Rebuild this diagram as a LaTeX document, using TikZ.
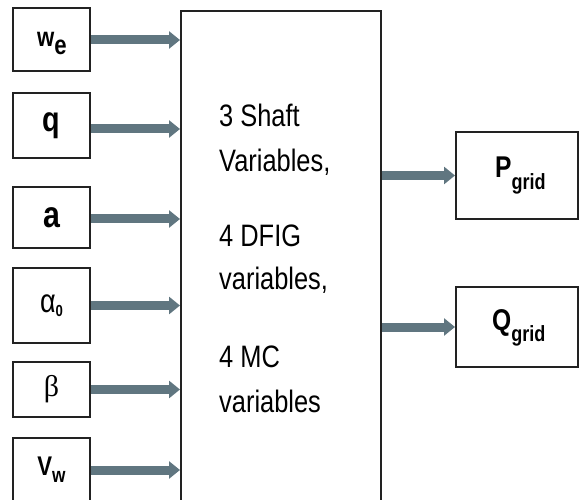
\documentclass[tikz,border=0pt]{standalone}
\usepackage{fontspec}
\setmainfont{Liberation Sans}[FakeStretch=0.82]
\newfontfamily\serifgr{Liberation Serif}
\usetikzlibrary{arrows.meta}
\definecolor{arrowgray}{RGB}{96,118,128}
\definecolor{edgegray}{RGB}{34,34,34}
\tikzset{
  inbox/.style={draw=edgegray, line width=2pt, inner sep=0pt, minimum width=77pt},
  outbox/.style={draw=edgegray, line width=2pt, inner sep=0pt, minimum width=122pt},
  mainbox/.style={draw=edgegray, line width=2pt, inner sep=0pt, minimum width=200pt, minimum height=509pt},
  flow/.style={draw=arrowgray, line width=9pt, -{Triangle[length=11pt,width=17pt]}, arrowgray},
  maintext/.style={anchor=base west, inner sep=0pt, font=\fontsize{31}{36}\selectfont}
}
\begin{document}
\begin{tikzpicture}[x=1pt,y=-1pt]
\useasboundingbox (0,0) rectangle (579,500);
\clip (0,0) rectangle (579,500);
\fill[white] (0,0) rectangle (579,500);
% left input boxes
\node[inbox, minimum height=63pt] (we) at (51.5,39.5) {};
\node[inner sep=0pt] (wel) at (52,44)
  {\fontsize{27}{30}\selectfont\bfseries w\raisebox{-8pt}{e}};
\node[inbox, minimum height=65pt] (q) at (51.5,125.5)
  {\fontsize{35}{38}\selectfont\bfseries q};
\node[inbox, minimum height=61pt] (a) at (51.5,217.5)
  {\fontsize{37}{40}\selectfont\bfseries a};
\node[inbox, minimum height=75pt] (al) at (51.5,305.5)
  {\fontsize{33}{36}\selectfont α\raisebox{-4pt}{\fontsize{16}{18}\selectfont\bfseries 0}};
\node[inbox, minimum height=55pt] (be) at (51.5,389.5)
  {\serifgr\fontsize{30}{32}\selectfont β};
\node[inbox, minimum height=64pt] (vw) at (51.5,470)
  {\fontsize{27}{30}\selectfont\bfseries V\raisebox{-7pt}{\fontsize{21}{24}\selectfont w}};
% main box
\node[mainbox] (main) at (281,265.5) {};
\node[maintext] (t1) at (219,127) {3 Shaft};
\node[maintext] (t2) at (219,172) {Variables,};
\node[maintext] (t3) at (219,247) {4 DFIG};
\node[maintext] (t4) at (219,290) {variables,};
\node[maintext] (t5) at (219,367) {4 MC};
\node[maintext] (t6) at (219,412) {variables};
% right output boxes
\node[outbox, minimum height=87pt] (P) at (517,175.5) {};
\node[inner sep=0pt, anchor=base west] (Pl) at (495,178)
  {\fontsize{30}{32}\selectfont\bfseries P\raisebox{-12pt}{\fontsize{22}{24}\selectfont grid}};
\node[outbox, minimum height=80pt] (Q) at (517,327) {};
\node[inner sep=0pt, anchor=base west] (Ql) at (492,330)
  {\fontsize{30}{32}\selectfont\bfseries Q\raisebox{-12pt}{\fontsize{22}{24}\selectfont grid}};
% arrows
\draw[flow] ([yshift=-0.5pt]we.east) -- ([yshift=-0.5pt]we.east -| main.west);
\draw[flow] ([yshift=-3.5pt]q.east) -- ([yshift=-3.5pt]q.east -| main.west);
\draw[flow] ([yshift=-1.5pt]a.east) -- ([yshift=-1.5pt]a.east -| main.west);
\draw[flow] (al.east) -- (al.east -| main.west);
\draw[flow] (be.east) -- (be.east -| main.west);
\draw[flow] (vw.east) -- (vw.east -| main.west);
\draw[flow] (P.west -| main.east) -- (P.west);
\draw[flow] (Q.west -| main.east) -- (Q.west);
\end{tikzpicture}
\end{document}
